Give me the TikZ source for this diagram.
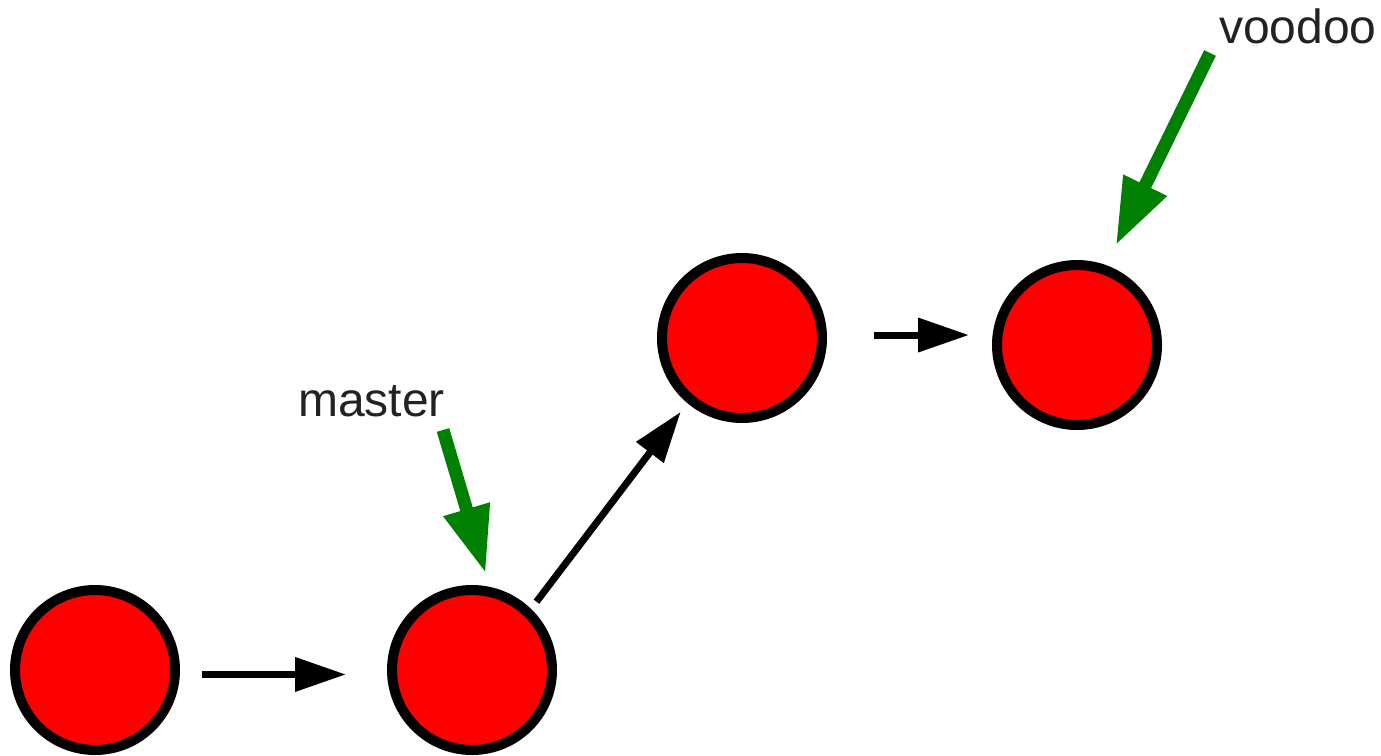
\documentclass[tikz,border=0pt]{standalone}
\usepackage{fontspec}
\setmainfont{Liberation Sans}
\usetikzlibrary{arrows.meta}
\definecolor{commitred}{RGB}{255,0,0}
\definecolor{refgreen}{RGB}{0,128,0}
\definecolor{labelgray}{RGB}{34,34,34}
\tikzset{
  commit/.style={circle, draw=black, fill=commitred, line width=10pt, minimum size=160pt, inner sep=0pt},
  parentarrow/.style={draw=black, line width=7pt, line cap=butt, -{Triangle[length=51pt,width=33pt]}},
  refarrow/.style={draw=refgreen, line width=13pt, line cap=butt, -{Triangle[length=67pt,width=45pt]}},
  reflabel/.style={anchor=base west, inner sep=0pt, text=labelgray, font=\fontsize{48}{57}\selectfont}
}
\begin{document}
\begin{tikzpicture}[x=1pt,y=-1pt]
\useasboundingbox (0,0) rectangle (1381,755);
\node[commit] (c1) at (95,670) {};
\node[commit] (c2) at (472,670) {};
\node[commit] (c3) at (742,338) {};
\node[commit] (c4) at (1077,345) {};
\node[reflabel] (master) at (298,416) {master};
\node[reflabel] (voodoo) at (1219,43) {voodoo};
\coordinate (mtail) at (443,430);
\coordinate (vtail) at (1210,53);
\draw[parentarrow, shorten <=22pt, shorten >=41pt] (c1.357) -- (c1.357 -| c2.west);
\draw[parentarrow, shorten <=9pt, shorten >=11pt] (c2.46) -- (c3.230);
\draw[parentarrow, shorten <=47pt, shorten >=23pt] (c3.2) -- (c3.2 -| c4.west);
\draw[refarrow, shorten >=14pt] (mtail) -- (c2.78);
\draw[refarrow, shorten >=22pt] (vtail) -- (c4.70);
\end{tikzpicture}
\end{document}
